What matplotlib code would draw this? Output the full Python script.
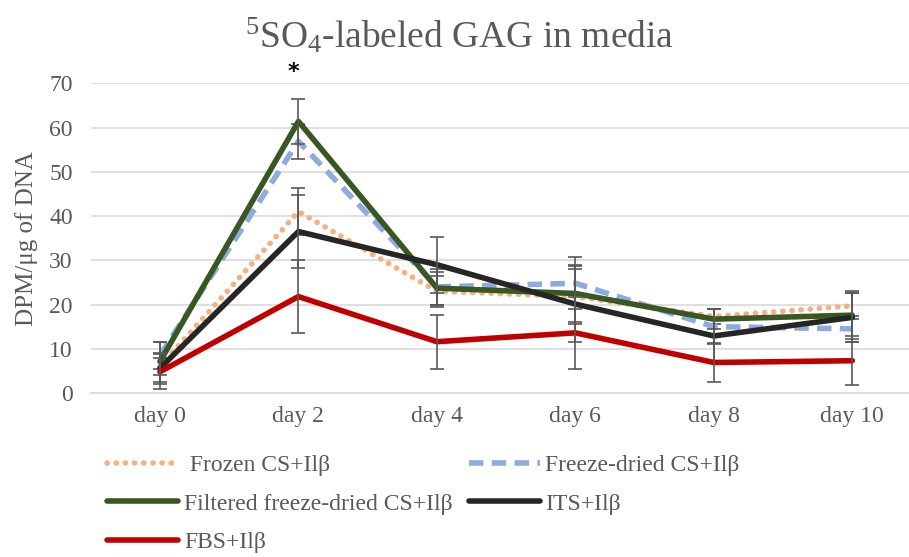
import matplotlib
matplotlib.use("Agg")
import matplotlib.pyplot as plt

plt.rcParams['font.family'] = ['Liberation Serif', 'DejaVu Serif']
plt.rcParams['mathtext.fontset'] = 'custom'
plt.rcParams['mathtext.rm'] = 'Liberation Serif'
plt.rcParams['mathtext.it'] = 'Liberation Serif:italic'

days = ['day 0', 'day 2', 'day 4', 'day 6', 'day 8', 'day 10']

frozen = [6.0, 41.0, 23.0, 21.8, 17.3, 19.7]
frozen_err = [2.0, 5.3, 3.5, 6.3, 1.8, 3.0]
freeze_dried = [8.5, 56.9, 24.0, 24.8, 15.0, 14.5]
freeze_dried_err = [3.0, 4.0, 4.0, 5.9, 4.0, 3.0]
filtered = [7.1, 61.4, 23.7, 22.5, 16.7, 17.6]
filtered_err = [4.5, 5.1, 3.7, 6.5, 2.3, 5.5]
its = [5.6, 36.5, 29.0, 20.1, 12.9, 17.1]
its_err = [3.5, 8.3, 6.3, 8.5, 6.1, 5.5]
fbs = [4.8, 21.8, 11.6, 13.6, 6.9, 7.3]
fbs_err = [4.0, 8.3, 6.1, 8.2, 4.3, 5.5]

fig = plt.figure(figsize=(9.09, 5.57), dpi=100)
ax = fig.add_axes([0.0998, 0.2944, 0.914, 0.556])
x = list(range(len(days)))

series = [
    ('Frozen CS+Ilβ', frozen, frozen_err, dict(color='#F4B183', linestyle=(0, (0.05, 1.6)), dash_capstyle='round')),
    ('Freeze-dried CS+Ilβ', freeze_dried, freeze_dried_err, dict(color='#8FAADC', linestyle=(0, (2.6, 1.5)))),
    ('Filtered freeze-dried CS+Ilβ', filtered, filtered_err, dict(color='#385723', linestyle='-')),
    ('ITS+Ilβ', its, its_err, dict(color='#262626', linestyle='-')),
    ('FBS+Ilβ', fbs, fbs_err, dict(color='#C00000', linestyle='-')),
]

handles = {}
for i, (name, vals, errs, style) in enumerate(series):
    ln, = ax.plot(x, vals, lw=4, label=name, zorder=3 + i, solid_capstyle='round', **style)
    ax.errorbar(x, vals, yerr=errs, fmt='none', ecolor='#595959', elinewidth=1.2,
                capsize=5, capthick=1.2, zorder=3 + i)
    handles[name] = ln

ax.set_xlim(-0.5, 5.5)
ax.set_ylim(0, 70)
ax.set_yticks(range(0, 71, 10))
ax.set_xticks(x)
ax.set_xticklabels(days)
ax.grid(axis='y', color='#D9D9D9', lw=1.2)
ax.set_axisbelow(True)
for s in ['top', 'right', 'left']:
    ax.spines[s].set_visible(False)
ax.spines['bottom'].set_color('#D9D9D9')
ax.spines['bottom'].set_linewidth(1.2)
ax.tick_params(axis='both', length=0, labelsize=17, colors='#595959')
ax.tick_params(axis='x', pad=9)
ax.tick_params(axis='y', pad=13)
ax.set_ylabel('DPM/μg of DNA', fontsize=18, color='#595959', labelpad=8)

ax.text(0.962, 72.6, '*', fontsize=16, fontweight='bold', family='DejaVu Sans',
        ha='center', va='center', clip_on=False)

fig.text(0.505, 0.935, r'$^5$SO$_4$-labeled GAG in media', fontsize=27,
         color='#595959', ha='center', va='center')

order = ['Frozen CS+Ilβ', 'Filtered freeze-dried CS+Ilβ', 'FBS+Ilβ',
         'Freeze-dried CS+Ilβ', 'ITS+Ilβ']
labels = [' ' + order[0]] + order[1:]
leg = fig.legend([handles[n] for n in order], labels, ncol=2, loc='upper left',
                 bbox_to_anchor=(0.118, 0.184), frameon=False, fontsize=17,
                 handlelength=3.0, handletextpad=0.25, columnspacing=0.68,
                 labelspacing=0.72, borderaxespad=0, borderpad=0)
for t in leg.get_texts():
    t.set_color('#595959')

fig.savefig('out.png', dpi=100)
